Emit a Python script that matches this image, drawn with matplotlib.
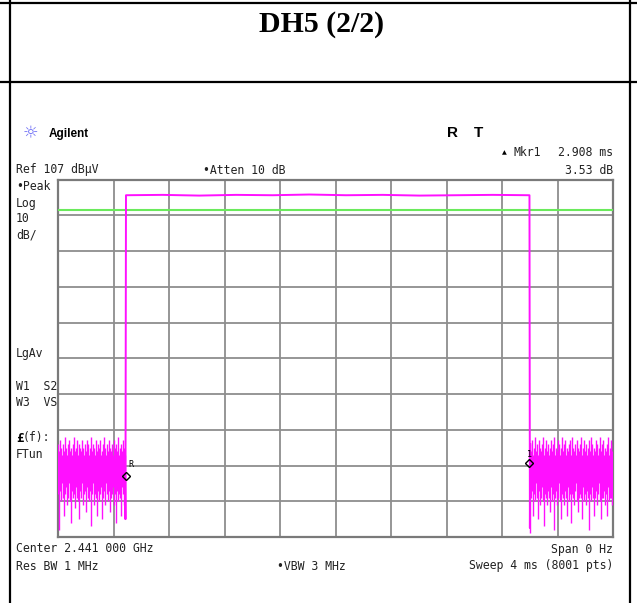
import numpy as np
import matplotlib.pyplot as plt

W, H = 637, 603

# analyzer settings
ref_level = 107.0      # dBuV, top of screen
db_per_div = 10.0
sweep_ms = 4.0
display_line = 98.5    # dBuV

# zero-span trace of the DH5 burst
pulse_start = 0.490    # ms
pulse_end = 3.398      # ms
pulse_top = [102.6, 102.7, 102.5, 102.7, 102.6, 102.8, 102.6, 102.7, 102.5, 102.6, 102.7, 102.6]
rise_dip = 12.0
fall_dip = 9.5

# noise floor outside the burst, peak/pit per display column (dBuV)
noise_left_hi = [33, 31, 34, 32, 30, 33, 31, 35, 32, 30, 33, 34, 31, 32, 30, 33, 35, 31, 32, 34,
                 30, 33, 32, 31, 34, 32, 30, 33, 31, 34, 33, 30, 32, 35, 31, 33, 32, 30, 34, 31,
                 33, 32, 34, 30, 31, 33, 35, 32, 30, 33, 31, 34, 32, 31, 33, 30, 34, 32, 33, 31,
                 35, 30, 32, 33, 31, 34, 32, 30]
noise_left_lo = [19, 9, 20, 17, 22, 18, 13, 19, 21, 16, 18, 22, 17, 11, 20, 18, 19, 15, 21, 18,
                 17, 12, 20, 18, 22, 16, 19, 20, 14, 21, 18, 17, 20, 10, 19, 22, 16, 19, 18, 13,
                 20, 17, 19, 21, 12, 18, 20, 16, 22, 19, 17, 20, 14, 18, 19, 21, 16, 19, 11, 20,
                 17, 19, 18, 13, 21, 19, 16, 12]
noise_right_hi = [33, 31, 34, 30, 32, 35, 31, 33, 30, 34, 32, 31, 33, 35, 30, 32, 34, 31, 33, 30,
                  32, 34, 31, 33, 35, 30, 32, 31, 34, 33, 30, 32, 35, 31, 33, 34, 30, 32, 31, 33,
                  34, 30, 35, 32, 31, 33, 30, 34, 32, 31, 33, 35, 30, 32, 34, 31, 33, 30, 32, 34,
                  31, 35, 33, 30, 32, 31, 34, 33, 30, 32, 35, 31, 33, 34, 30, 32, 31, 33, 35, 30,
                  32, 34, 31, 33]
noise_right_lo = [8, 18, 20, 13, 19, 17, 22, 18, 12, 20, 16, 18, 21, 17, 10, 19, 18, 16, 20, 18,
                  14, 21, 17, 19, 9, 18, 20, 16, 18, 22, 17, 12, 19, 18, 16, 20, 18, 13, 21, 17,
                  19, 11, 19, 18, 16, 20, 22, 17, 14, 18, 19, 18, 12, 21, 17, 19, 16, 20, 18, 9,
                  19, 17, 21, 18, 13, 18, 20, 16, 19, 22, 17, 12, 18, 18, 20, 16, 19, 13, 21, 17,
                  18, 18, 16, 20]

# markers: R at burst start, delta marker 1 at burst end
mkr_ref = (0.490, 24.1)
mkr_delta = (3.398, 27.6)

t_left = np.linspace(0.0, 0.482, len(noise_left_hi))
t_right = np.linspace(3.404, sweep_ms, len(noise_right_hi))
t_pulse = np.concatenate([[0.482, 0.486, pulse_start],
                          np.linspace(pulse_start, pulse_end, len(pulse_top)),
                          [pulse_end, 3.401, 3.404]])
lvl_pulse = np.concatenate([[noise_left_hi[-1], rise_dip, pulse_top[0]], pulse_top,
                            [pulse_top[-1], fall_dip, noise_right_hi[0]]])

fig = plt.figure(figsize=(W / 100, H / 100), dpi=100)

# page layer in pixel coordinates
bg = fig.add_axes([0, 0, 1, 1])
bg.set_xlim(0, W)
bg.set_ylim(H, 0)
bg.axis('off')

for x in (10, 630):
    bg.plot([x, x], [0, H], color='black', lw=1.6)
for y in (3, 82):
    bg.plot([0, W], [y, y], color='black', lw=1.6)

bg.text(322, 24, "DH5 (2/2)", family='Liberation Serif', weight='bold', fontsize=21.5,
        ha='center', va='center')

bg.text(30, 133, "\u263c", family='DejaVu Sans', fontsize=12.5, color='#6a6af5',
        ha='center', va='center')
bg.text(49, 134, "Agilent", family='Liberation Sans', weight='bold', fontsize=8.5,
        ha='left', va='center')
bg.text(452, 133, "R", family='Liberation Sans', weight='bold', fontsize=11, ha='center', va='center')
bg.text(479, 133, "T", family='Liberation Sans', weight='bold', fontsize=11, ha='center', va='center')

mono = dict(family='DejaVu Sans Mono', fontsize=8.3, va='center', color='#222222')
bg.text(504, 153, "\u25b2", family='DejaVu Sans', fontsize=4.5, va='center', ha='center')
bg.text(514, 153, "Mkr1", ha='left', **mono)
bg.text(613, 153, "2.908 ms", ha='right', **mono)
bg.text(613, 170, "3.53 dB", ha='right', **mono)
bg.text(16, 170, "Ref 107 dB\u00b5V", ha='left', **mono)
bg.text(203, 170, "\u2022Atten 10 dB", ha='left', **mono)

side = [("\u2022Peak", 186), ("Log", 203), ("10", 219), ("dB/", 235),
        ("LgAv", 353), ("W1  S2", 387), ("W3  VS", 403), ("FTun", 455)]
for s, y in side:
    bg.text(16, y, s, ha='left', **mono)
bg.text(16, 438, "\u00a3", ha='left', family='DejaVu Sans Mono', weight='bold',
        fontsize=9, va='center')
bg.text(23, 438, "(f):", ha='left', **mono)

bg.text(16, 549, "Center 2.441 000 GHz", ha='left', **mono)
bg.text(613, 549, "Span 0 Hz", ha='right', **mono)
bg.text(16, 566, "Res BW 1 MHz", ha='left', **mono)
bg.text(277, 566, "\u2022VBW 3 MHz", ha='left', **mono)
bg.text(613, 566, "Sweep 4 ms (8001 pts)", ha='right', **mono)

# analyzer screen
x0, x1, y0, y1 = 58, 613, 179.5, 537
ax = fig.add_axes([x0 / W, 1 - y1 / H, (x1 - x0) / W, (y1 - y0) / H])
ax.set_xlim(0, sweep_ms)
ax.set_ylim(ref_level - 10 * db_per_div, ref_level)
ax.set_xticks(np.linspace(0, sweep_ms, 11))
ax.set_yticks(np.linspace(ref_level - 10 * db_per_div, ref_level, 11))
ax.grid(True, color='#8e8e8e', lw=1.3)
ax.tick_params(length=0, labelbottom=False, labelleft=False)
for sp in ax.spines.values():
    sp.set_color('#7a7a7a')
    sp.set_linewidth(1.6)

trace = '#ff10ff'
ax.axhline(display_line, color='#6aea5c', lw=1.5, zorder=3)
ax.vlines(t_left, noise_left_lo, noise_left_hi, color=trace, lw=1.0, zorder=4)
ax.vlines(t_right, noise_right_lo, noise_right_hi, color=trace, lw=1.0, zorder=4)
ax.plot(t_pulse, lvl_pulse, color=trace, lw=1.4, zorder=4)

ax.plot(*mkr_ref, marker='D', ms=4.5, mfc='none', mec='black', mew=1.0, zorder=5)
ax.text(mkr_ref[0] + 0.02, mkr_ref[1] + 3.2, "R", family='DejaVu Sans Mono', fontsize=6,
        ha='left', va='center', zorder=5)
ax.plot(*mkr_delta, marker='D', ms=4.5, mfc='none', mec='black', mew=1.0, zorder=5)
ax.text(mkr_delta[0], mkr_delta[1] + 2.6, "1", family='DejaVu Sans Mono', fontsize=6,
        ha='center', va='center', zorder=5)

fig.savefig("out.png", dpi=100)
